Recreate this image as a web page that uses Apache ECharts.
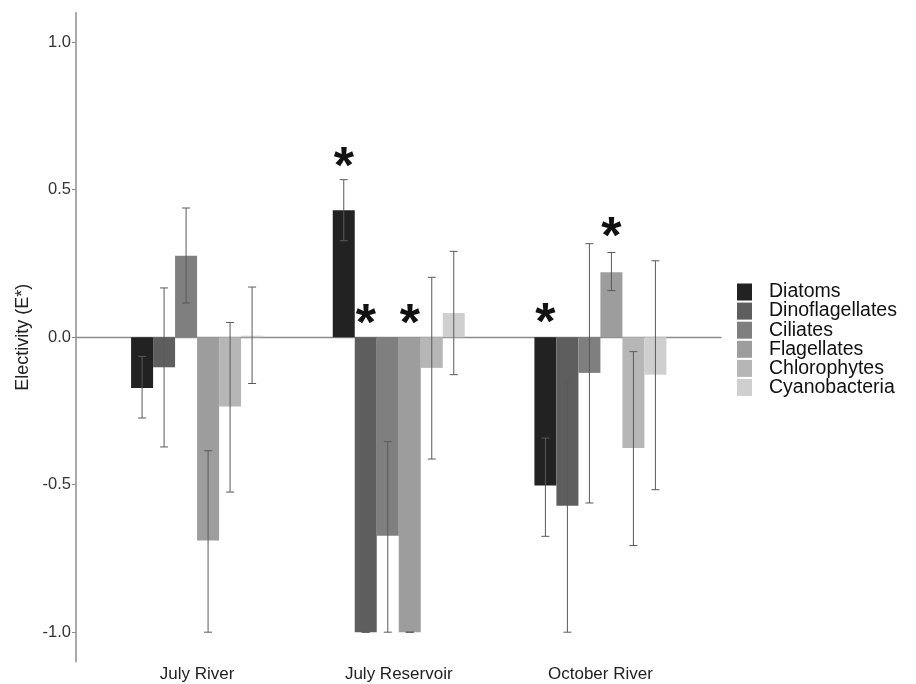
<!DOCTYPE html>
<html>
<head>
<meta charset="utf-8">
<script src="https://cdn.jsdelivr.net/npm/echarts@6/dist/echarts.min.js"></script>
<style>html,body{margin:0;padding:0;background:#fff;}#c{width:916px;height:684px;}</style>
</head>
<body>
<div id="c"></div>
<script>
// ---- data ----
const categories = ['July River', 'July Reservoir', 'October River'];
const taxa = ['Diatoms', 'Dinoflagellates', 'Ciliates', 'Flagellates', 'Chlorophytes', 'Cyanobacteria'];

const diatoms         = [-0.172,  0.430, -0.503];
const dinoflagellates = [-0.102, -1.000, -0.571];
const ciliates        = [ 0.276, -0.673, -0.121];
const flagellates     = [-0.689, -1.000,  0.220];
const chlorophytes    = [-0.235, -0.104, -0.376];
const cyanobacteria   = [ 0.005,  0.082, -0.127];

const diatomsLow         = [-0.274,  0.327, -0.675];
const diatomsHigh        = [-0.065,  0.534, -0.342];
const dinoflagellatesLow = [-0.372, -1.000, -1.000];
const dinoflagellatesHigh= [ 0.167, -1.000, -0.152];
const ciliatesLow        = [ 0.116, -1.000, -0.562];
const ciliatesHigh       = [ 0.438, -0.354,  0.317];
const flagellatesLow     = [-1.000, -1.000,  0.158];
const flagellatesHigh    = [-0.385, -1.000,  0.287];
const chlorophytesLow    = [-0.525, -0.413, -0.706];
const chlorophytesHigh   = [ 0.050,  0.203, -0.049];
const cyanobacteriaLow   = [-0.157, -0.127, -0.517];
const cyanobacteriaHigh  = [ 0.170,  0.291,  0.259];

// significance asterisks: category index, taxon index, y position
const starCategory = [1, 1, 1, 2, 2];
const starTaxon    = [0, 1, 3, 0, 3];
const starY        = [0.609, 0.076, 0.076, 0.079, 0.373];

const yTicks = [-1.0, -0.5, 0.0, 0.5, 1.0];
const yTickLabels = ['-1.0', '-0.5', '0.0', '0.5', '1.0'];

// ---- styles ----
const colors = ['#222222', '#5e5e5e', '#7f7f7f', '#9d9d9d', '#b6b6b6', '#cfcfcf'];
const BAR_W = 22;
const FONT = 'Liberation Sans, Arial, sans-serif';
const STAR_SHIFT = 11; // glyph sits high in its em box

const values = [diatoms, dinoflagellates, ciliates, flagellates, chlorophytes, cyanobacteria];
const lows = [diatomsLow, dinoflagellatesLow, ciliatesLow, flagellatesLow, chlorophytesLow, cyanobacteriaLow];
const highs = [diatomsHigh, dinoflagellatesHigh, ciliatesHigh, flagellatesHigh, chlorophytesHigh, cyanobacteriaHigh];

const errData = [];
for (let t = 0; t < taxa.length; t++) {
  for (let c = 0; c < categories.length; c++) {
    errData.push([c, t, lows[t][c], highs[t][c]]);
  }
}
const starData = starCategory.map((c, i) => [c, starTaxon[i], starY[i]]);

const chart = echarts.init(document.getElementById('c'), null, { renderer: 'canvas' });

const barSeries = taxa.map((name, t) => ({
  name: name,
  type: 'bar',
  xAxisIndex: 1,
  yAxisIndex: 1,
  barWidth: BAR_W,
  barGap: '0%',
  data: values[t],
  itemStyle: { color: colors[t] },
  z: 2
}));

const option = {
  animation: false,
  backgroundColor: '#ffffff',
  color: colors,
  grid: [
    { left: 76, right: 195, top: 12.7, bottom: 22.3 },
    { left: 96.25, right: 214.75, top: 12.7, bottom: 22.3 }
  ],
  legend: {
    data: taxa,
    orient: 'vertical',
    left: 737,
    top: 282,
    padding: 0,
    icon: 'rect',
    itemWidth: 15,
    itemHeight: 17,
    itemGap: -0.9,
    selectedMode: false,
    textStyle: {
      fontFamily: FONT,
      fontSize: 19.5,
      color: '#111',
      padding: [0, 0, 0, 12]
    }
  },
  xAxis: [
    {
      type: 'value', gridIndex: 0, min: 0.4, max: 3.6,
      axisLine: { show: true, onZero: true, lineStyle: { color: '#8c8c8c', width: 1.3 } },
      axisTick: { show: false }, axisLabel: { show: false }, splitLine: { show: false }
    },
    {
      type: 'category', gridIndex: 1, data: categories, boundaryGap: true,
      axisLine: { show: false, onZero: false }, axisTick: { show: false },
      axisLabel: { fontFamily: FONT, fontSize: 17, color: '#222', margin: 4 },
      splitLine: { show: false }
    }
  ],
  yAxis: [
    {
      type: 'value', gridIndex: 0, min: -1.1, max: 1.1,
      name: 'Electivity (E*)', nameLocation: 'middle', nameGap: 44, nameRotate: 90,
      nameTextStyle: { fontFamily: FONT, fontSize: 18, color: '#222' },
      axisLine: { show: true, lineStyle: { color: '#8c8c8c', width: 1.5 } },
      axisTick: { show: true, length: 4, customValues: yTicks, lineStyle: { color: '#8c8c8c' } },
      axisLabel: {
        fontFamily: FONT, fontSize: 16.5, color: '#333', margin: 5,
        customValues: yTicks,
        formatter: v => yTickLabels[yTicks.findIndex(t => Math.abs(t - v) < 1e-6)]
      },
      splitLine: { show: false }
    },
    {
      type: 'value', gridIndex: 1, min: -1.1, max: 1.1, show: false,
      splitLine: { show: false }
    }
  ],
  series: barSeries.concat([
    {
      type: 'custom',
      name: 'errors',
      xAxisIndex: 1, yAxisIndex: 1,
      data: errData,
      encode: { x: 0, y: [2, 3] },
      z: 5,
      renderItem: function (params, api) {
        const c = api.value(0), t = api.value(1);
        const lo = api.coord([c, api.value(2)]);
        const hi = api.coord([c, api.value(3)]);
        const x = lo[0] + (t - (taxa.length - 1) / 2) * BAR_W;
        const cap = 4;
        const st = { stroke: '#5a5a5a', lineWidth: 1 };
        return {
          type: 'group',
          children: [
            { type: 'line', shape: { x1: x, y1: lo[1], x2: x, y2: hi[1] }, style: st },
            { type: 'line', shape: { x1: x - cap, y1: lo[1], x2: x + cap, y2: lo[1] }, style: st },
            { type: 'line', shape: { x1: x - cap, y1: hi[1], x2: x + cap, y2: hi[1] }, style: st }
          ]
        };
      }
    },
    {
      type: 'custom',
      name: 'stars',
      xAxisIndex: 1, yAxisIndex: 1,
      data: starData,
      encode: { x: 0, y: 2 },
      z: 6,
      renderItem: function (params, api) {
        const c = api.value(0), t = api.value(1);
        const p = api.coord([c, api.value(2)]);
        const x = p[0] + (t - (taxa.length - 1) / 2) * BAR_W;
        return {
          type: 'text',
          x: x, y: p[1] + STAR_SHIFT,
          style: {
            text: '*', fontFamily: FONT, fontSize: 52, fontWeight: 'bold', fill: '#111',
            align: 'center', verticalAlign: 'middle'
          }
        };
      }
    }
  ])
};
chart.setOption(option);
</script>
</body>
</html>
